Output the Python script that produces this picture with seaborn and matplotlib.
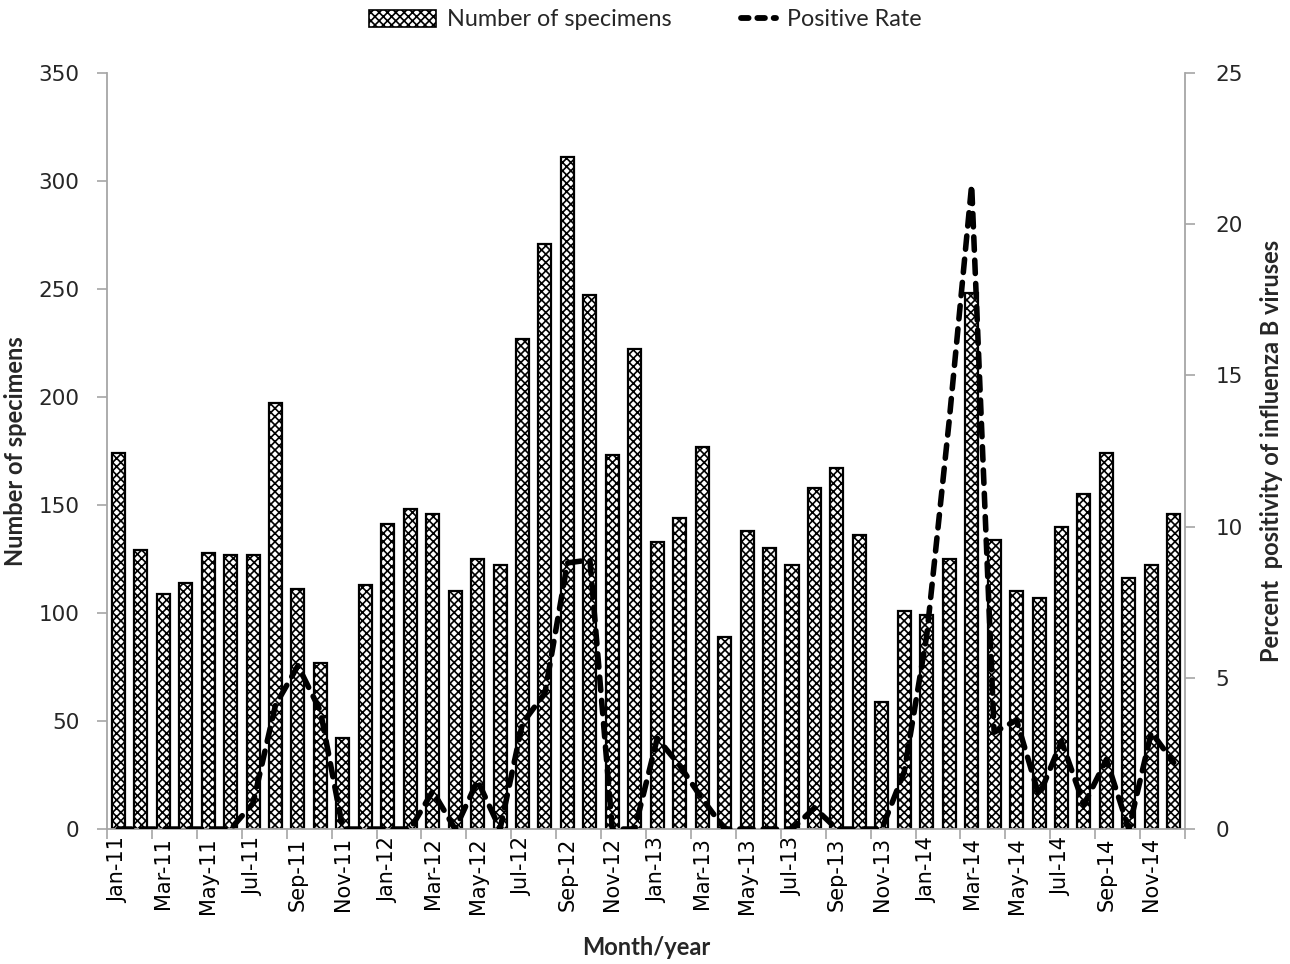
import numpy as np
import pandas as pd
import matplotlib
matplotlib.use("Agg")
import matplotlib.pyplot as plt
import seaborn as sns
from matplotlib.patches import Patch
from matplotlib.lines import Line2D
from matplotlib.legend_handler import HandlerLine2D

months = ["Jan", "Feb", "Mar", "Apr", "May", "Jun", "Jul", "Aug", "Sep", "Oct", "Nov", "Dec"]
years = ["11", "12", "13", "14"]
month_labels = [f"{m}-{y}" for y in years for m in months]

specimens = [174, 129, 109, 114, 128, 127, 127, 197, 111, 77, 42, 113,
             141, 148, 146, 110, 125, 122, 227, 271, 311, 247, 173, 222,
             133, 144, 177, 89, 138, 130, 122, 158, 167, 136, 59, 101,
             99, 125, 248, 134, 110, 107, 140, 155, 174, 116, 122, 146]

positive_rate = [0, 0, 0, 0, 0, 0, 0.85, 4.1, 5.4, 3.9, 0, 0,
                 0, 0, 1.25, 0, 1.6, 0, 3.5, 4.5, 8.8, 8.9, 0, 0,
                 3.0, 2.1, 1.0, 0, 0, 0, 0, 0.7, 0, 0, 0, 1.9,
                 6.4, 13.5, 21.3, 3.2, 3.6, 1.1, 2.9, 0.8, 2.3, 0, 3.2, 2.2]

df = pd.DataFrame({"month": month_labels, "specimens": specimens, "rate": positive_rate})

sns.set_theme(style="white")
plt.rcParams["font.family"] = ["DejaVu Sans"]
plt.rcParams["hatch.linewidth"] = 1.2

label_font = ["Liberation Sans Narrow", "Lato", "DejaVu Sans"]
legend_font = ["Lato", "DejaVu Sans"]
gray = "#A6A6A6"


class ShortLine(HandlerLine2D):
    """Draw the line handle in the right part of the handle box only."""
    def create_artists(self, legend, orig_handle, xdescent, ydescent, width, height, fontsize, trans):
        frac = 0.52
        return super().create_artists(legend, orig_handle, xdescent - width * (1 - frac), ydescent,
                                      width * frac, height, fontsize, trans)


fig = plt.figure(figsize=(12.9, 9.64), dpi=100)
ax = fig.add_axes([0.083, 0.14, 0.8356, 0.7843])

sns.barplot(data=df, x="month", y="specimens", ax=ax, color="white",
            edgecolor="black", linewidth=1.6, width=0.58, hatch="xxxx",
            saturation=1)

ax2 = ax.twinx()
sns.lineplot(data=df, x="month", y="rate", ax=ax2, sort=False, color="black",
             linewidth=4.0, dashes=False)
for ln in ax2.get_lines():
    ln.set_linestyle((0, (2.4, 1.8)))
    ln.set_dash_capstyle("round")
    ln.set_solid_joinstyle("round")

n = len(month_labels)
ax.set_xlim(-0.5, n - 0.5)
ax.set_ylim(0, 350)
ax2.set_ylim(0, 25)
ax.set_yticks(np.arange(0, 351, 50))
ax2.set_yticks(np.arange(0, 26, 5))

ax.set_xticks(np.arange(0, n, 2))
ax.set_xticklabels(month_labels[::2], rotation=90)
ax.set_xticks(np.arange(-0.5, n, 2), minor=True)
ax.tick_params(axis="x", which="major", length=0, pad=6, labelsize=15, colors="black")
ax.tick_params(axis="x", which="minor", length=7, width=1.2, color=gray, direction="out", bottom=True)
ax.tick_params(axis="y", which="major", length=7, width=1.2, color=gray, direction="out",
               labelsize=15.5, pad=13, left=True)
ax2.tick_params(axis="y", which="major", length=7, width=1.2, color=gray, direction="out",
                labelsize=15.5, pad=15, right=True)

for a in (ax, ax2):
    for side in ("left", "right", "bottom"):
        a.spines[side].set_color(gray)
        a.spines[side].set_linewidth(1.3)
    a.spines["top"].set_visible(False)
ax.spines["right"].set_visible(False)
ax2.spines["left"].set_visible(False)
ax2.spines["bottom"].set_visible(False)

ax.set_xlabel("Month/year", fontsize=17, fontweight="bold", family=label_font, labelpad=16)
ax.set_ylabel("Number of specimens", fontsize=17, fontweight="bold", family=label_font, labelpad=8)
ax2.set_ylabel("Percent  positivity of influenza B viruses", fontsize=17, fontweight="bold",
               family=label_font, labelpad=12)

bar_handle = Patch(facecolor="white", edgecolor="black", hatch="xxxx", linewidth=1.2)
line_handle = Line2D([0], [0], color="black", linewidth=4.2, linestyle=(0, (1.3, 1.5)),
                     dash_capstyle="round")
fig.legend([bar_handle, line_handle], ["Number of specimens", "Positive Rate"], loc="upper center",
           bbox_to_anchor=(0.5, 1.012), ncol=2, frameon=False,
           prop={"family": legend_font, "size": 16.8}, handlelength=2.9, handleheight=0.75,
           columnspacing=1.6, handletextpad=0.45,
           handler_map={line_handle: ShortLine()})

fig.savefig("out.png", dpi=100)
